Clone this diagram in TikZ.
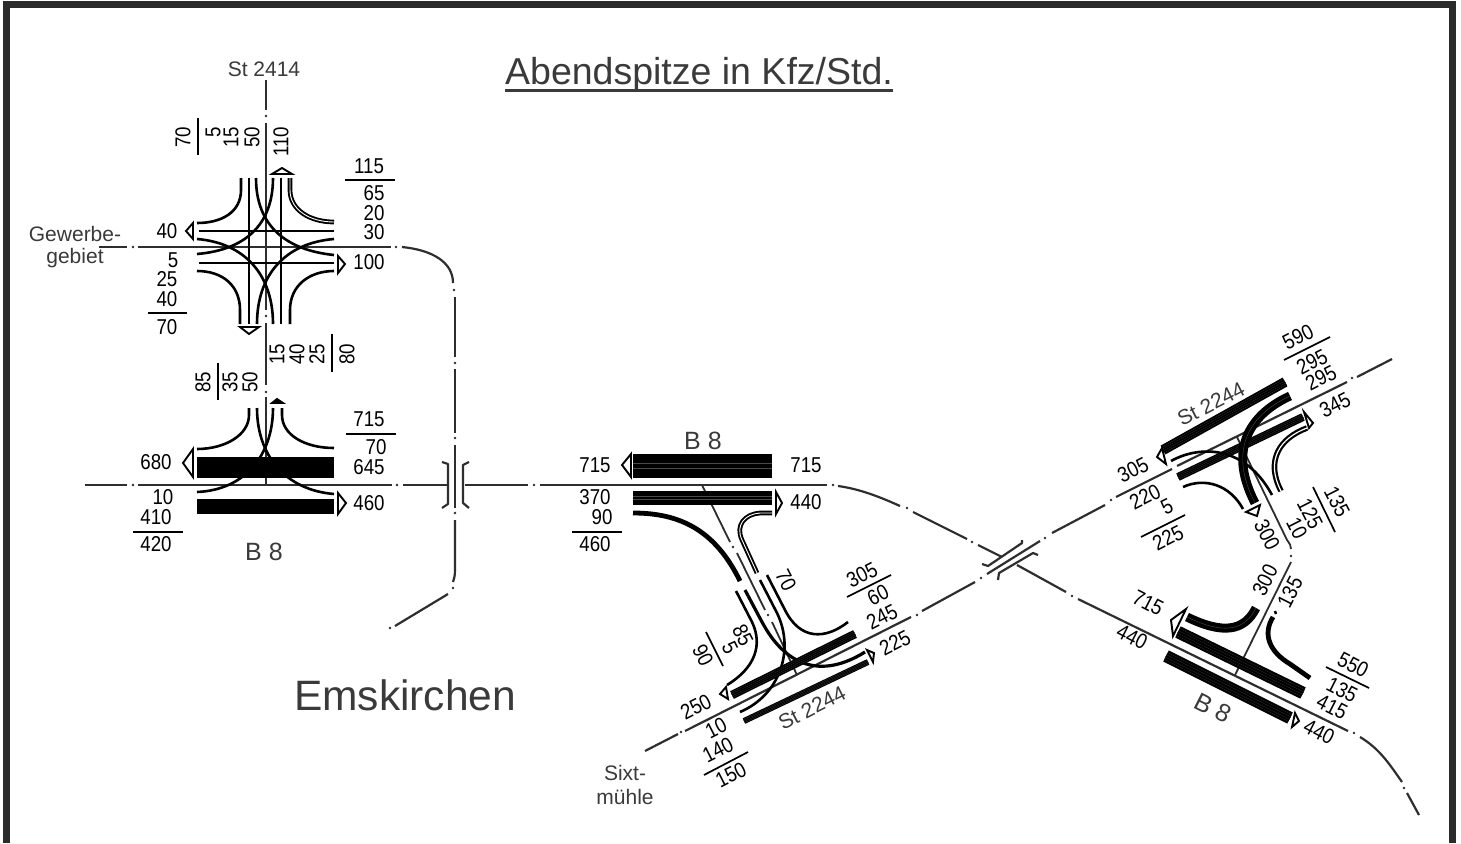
\documentclass[tikz,border=0pt]{standalone}
\usepackage{fontspec}
\setmainfont{Liberation Sans}
\newfontfamily\numfont[FakeStretch=0.87]{Liberation Sans}
\definecolor{frame}{HTML}{2B2B2B}
\definecolor{roadc}{HTML}{2E2E2E}
\definecolor{labc}{HTML}{3A3A3A}
\definecolor{stripe}{HTML}{4A4A4A}
\tikzset{
  road/.style={draw=roadc,line width=2.2pt},
  thinroad/.style={draw=roadc,line width=1.8pt},
  lane/.style={draw=black,line width=2.6pt},
  lanemid/.style={draw=black,line width=3.2pt},
  lanethick/.style={draw=black,line width=4.8pt},
  lanedouble/.style={draw=black,line width=1.9pt,double=white,double distance=0.9pt},
  fracbar/.style={draw=black,line width=1.7pt},
  arrowtri/.style={draw=black,line width=1.9pt,fill=white,line join=miter},
  numtext/.style={inner sep=0pt,text=black,font=\numfont\fontsize{21.5}{21.5}\selectfont},
  roadtext/.style={inner sep=0pt,text=labc,font=\fontsize{21}{21}\selectfont},
}
\newcommand\lab[5]{\node[numtext,rotate=#4] (#1) at (#2,#3) {#5};}
\newcommand\rlab[5]{\node[roadtext,rotate=#4] (#1) at (#2,#3) {#5};}
\newcommand\rdot[2]{\fill[roadc] (#1,#2) circle (1.4);}
% band: black strip with fine grey lane stripes
\newcommand\band[5]{%
  \draw[line width=#5pt,black] (#1,#2) -- (#3,#4);
  \draw[line width=#5pt*0.62,stripe] (#1,#2) -- (#3,#4);
  \draw[line width=#5pt*0.62-0.4pt,black] (#1,#2) -- (#3,#4);
  \draw[line width=#5pt*0.22,stripe] (#1,#2) -- (#3,#4);
  \draw[line width=#5pt*0.22-0.4pt,black] (#1,#2) -- (#3,#4);
}
\begin{document}
\begin{tikzpicture}[x=1pt,y=-1pt]
\useasboundingbox (0,0) rectangle (1461,843);
\fill[white] (0,0) rectangle (1461,843);
% frame
\fill[frame] (3,1) rectangle (1456,8);
\fill[frame] (3,1) rectangle (10,843);
\fill[frame] (1449,1) rectangle (1456,843);

% title
\node[inner sep=0pt,text=labc,font=\fontsize{37.5}{37.5}\selectfont] (title) at (699,74.5) {Abendspitze in Kfz/Std.};
\draw[draw=labc,line width=2.2pt] (505,90.5) -- (893,90.5);
\node[inner sep=0pt,text=labc,font=\fontsize{42.5}{42.5}\selectfont] (ems) at (405,695) {Emskirchen};

% ---- road axes ----
\draw[road] (266,80) -- (266,110); \rdot{266}{116}
\draw[road] (266,123) -- (266,310); \rdot{266}{316}
\draw[road] (266,323) -- (266,385); \rdot{266}{392}
\draw[road] (266,397) -- (266,485);
\draw[road] (99,247) -- (127,247); \rdot{133}{247}
\draw[road] (138,247) -- (391,247); \rdot{396}{247}
\draw[road] (402,247) .. controls (432,250) and (453,262) .. (453,283); \rdot{454}{290}
\draw[road] (455,297) -- (455,357); \rdot{455}{363}
\draw[road] (455,369) -- (455,433); \rdot{455}{438}
\draw[road] (455,445) -- (455,508); \rdot{455}{513}
\draw[road] (455,520) -- (455,570) .. controls (455,576) and (454,579) .. (453,582); \rdot{453}{588}
\draw[road] (448,594) -- (395,626); \rdot{390}{628}
\draw[road] (85,485) -- (127,485); \rdot{133}{485}
\draw[road] (138,485) -- (392,485); \rdot{397}{485}
\draw[road] (403,485) -- (448,485);
\draw[road] (465,485) -- (528,485); \rdot{534}{485}
\draw[road] (540,485) -- (827,485); \rdot{833}{485}
\draw[road] (838,486) .. controls (860,489) and (880,497) .. (900,506); \rdot{907}{508}
\draw[road] (913,512) -- (967,539); \rdot{972}{542}
\draw[road] (978,545) -- (1002,557);
\draw[road] (1017,565) -- (1066,592); \rdot{1072}{596}
\draw[road] (1078,599) -- (1348,731); \rdot{1354}{733}
\draw[road] (1360,737) .. controls (1380,749) and (1390,765) .. (1402,782); \rdot{1404}{788}
\draw[road] (1407,793) -- (1419,815);
% St 2244 axis
\draw[road] (645,751) -- (678,734); \rdot{681}{732}
\draw[road] (685,731) -- (911,617); \rdot{917}{615}
\draw[road] (922,611) -- (975,582); \rdot{981}{578}
\draw[road] (987,574) -- (1040,541); \rdot{1045}{538}
\draw[road] (1052,533) -- (1105,505); \rdot{1111}{500}
\draw[road] (1116,497) -- (1172,469);
\draw[road] (1177,466) -- (1347,382); \rdot{1352}{378}
\draw[road] (1357,377) -- (1392,359);
% side axes
\draw[thinroad] (702,485) -- (730,542); \rdot{733}{547}
\draw[thinroad] (737,553) -- (765,610); \rdot{768}{615}
\draw[thinroad] (772,622) -- (797,675);
\draw[thinroad] (1237,437) -- (1287,540) .. controls (1290,544) and (1291,546) .. (1291,549); \rdot{1291}{556}
\draw[thinroad] (1291,562) -- (1235,675);
% bridges
\draw[road,line join=round] (442,462) -- (448,464) -- (448,504) -- (442,508);
\draw[road,line join=round] (469,462) -- (463,465) -- (463,503) -- (469,508);
\draw[road,line join=round] (1022,540) -- (1022,543) -- (988,566) -- (982,564);
\draw[road,line join=round] (1038,555) -- (1033,553) -- (999,573) -- (998,580);

% ---- upper-left junction ----
\draw[lane] (241,178) -- (241,190) .. controls (241,212) and (222,223) .. (197,223);
\draw[lanedouble] (290,178) -- (290,190) .. controls (290,210) and (310,222) .. (334,222);
\draw[lane] (240,324) -- (240,310) .. controls (240,285) and (222,271) .. (197,271);
\draw[lane] (290,324) -- (290,310) .. controls (290,285) and (310,271) .. (334,271);
\draw[lane] (249,178) -- (249,324);
\draw[lane] (281,178) -- (281,324);
\draw[lane] (199,231) -- (334,231);
\draw[lane] (199,263) -- (334,263);
\draw[lane] (256,178) .. controls (256,225) and (285,250) .. (334,255);
\draw[lane] (273,178) .. controls (273,225) and (245,250) .. (197,254);
\draw[lane] (197,239) .. controls (245,243) and (273,275) .. (273,324);
\draw[lane] (257,324) .. controls (257,275) and (285,243) .. (334,239);
\draw[arrowtri] (272,174) -- (292,174) -- (282,168) -- cycle;
\draw[arrowtri] (193,223) -- (193,239) -- (186,231) -- cycle;
\draw[arrowtri] (338,256) -- (338,273) -- (345,264) -- cycle;
\draw[arrowtri] (240,327) -- (259,327) -- (249,334) -- cycle;

\node[roadtext] (st2414) at (264,69) {St 2414};
\rlab{gew}{75}{234}{0}{Gewerbe-}
\rlab{geb}{75}{258}{0}{gebiet}
\lab{a1}{183}{137}{90}{70}
\draw[fracbar] (198,118) -- (198,155);
\lab{a2}{213}{132}{90}{5}
\lab{a3}{231}{137}{90}{15}
\lab{a4}{252}{137}{90}{50}
\lab{a5}{281}{142}{90}{110}
\lab{a6}{369}{166}{0}{115}
\draw[fracbar] (345,180) -- (395,180);
\lab{a7}{374}{193}{0}{65}
\lab{a8}{374}{213}{0}{20}
\lab{a9}{374}{232}{0}{30}
\lab{a10}{167}{231}{0}{40}
\lab{a11}{369}{262}{0}{100}
\lab{a12}{173}{260}{0}{5}
\lab{a13}{167}{279}{0}{25}
\lab{a14}{167}{299}{0}{40}
\draw[fracbar] (148,313) -- (187,313);
\lab{a15}{167}{327}{0}{70}
\lab{a16}{277}{354}{90}{15}
\lab{a17}{297}{354}{90}{40}
\lab{a18}{317}{354}{90}{25}
\draw[fracbar] (332,334) -- (332,372);
\lab{a19}{347}{354}{90}{80}

% ---- lower-left junction ----
\band{197}{467.5}{334}{467.5}{21}
\band{197}{506.5}{334}{506.5}{15}
\draw[lane] (249,408) -- (249,415) .. controls (249,435) and (225,449) .. (197,449);
\draw[lane] (282,408) -- (282,415) .. controls (282,435) and (305,448) .. (334,448);
\draw[lane] (257,408) .. controls (257,455) and (285,490) .. (334,494);
\draw[lane] (273,408) .. controls (273,455) and (245,490) .. (197,492);
\draw[arrowtri,fill=black] (272,403) -- (283,403) -- (277,399) -- cycle;
\draw[arrowtri] (193,449) -- (193,477) -- (183,463) -- cycle;
\draw[arrowtri] (338,493) -- (338,514) -- (346,503) -- cycle;
\lab{b1}{203}{382}{90}{85}
\draw[fracbar] (218,363) -- (218,400);
\lab{b2}{230}{382}{90}{35}
\lab{b3}{250}{382}{90}{50}
\lab{b4}{369}{419}{0}{715}
\draw[fracbar] (346,434) -- (396,434);
\lab{b5}{376}{447}{0}{70}
\lab{b6}{369}{467}{0}{645}
\lab{b7}{156}{462}{0}{680}
\lab{b8}{163}{497}{0}{10}
\lab{b9}{156}{517}{0}{410}
\draw[fracbar] (133,532) -- (183,532);
\lab{b10}{156}{544}{0}{420}
\lab{b11}{369}{503}{0}{460}
\node[inner sep=0pt,text=labc,font=\fontsize{25}{25}\selectfont] (b8a) at (264,552) {B 8};

% ---- middle junction ----
\band{633}{466}{772}{466}{24}
\band{633}{498}{772}{498}{14}
\draw[arrowtri] (631,454) -- (631,477) -- (622,465) -- cycle;
\draw[arrowtri] (776,492) -- (776,514) -- (782,503) -- cycle;
\draw[lanethick] (633,513) .. controls (680,513) and (715,530) .. (740,581);
\draw[lanedouble] (772,513) -- (760,513) .. controls (745,514) and (735,525) .. (742,540) -- (757,573);
\draw[lane] (736,591) -- (752,622) .. controls (763,645) and (755,668) .. (727,685);
\draw[lanemid] (745,590) -- (762,622) .. controls (785,665) and (820,680) .. (865,652);
\draw[lane] (760,580) -- (777,613) .. controls (795,650) and (780,695) .. (740,712);
\draw[lane] (767,575) -- (785,610) .. controls (800,640) and (825,640) .. (848,622);
\band{732}{695}{855}{634}{8.5}
\band{744}{721}{868}{662}{6}
\draw[arrowtri] (726,687) -- (720,694) -- (728,699) -- cycle;
\draw[arrowtri] (867,650) -- (874,653) -- (873,662) -- cycle;
\node[inner sep=0pt,text=labc,font=\fontsize{25}{25}\selectfont] (b8b) at (703,441) {B 8};
\lab{c1}{595}{465}{0}{715}
\lab{c2}{806}{465}{0}{715}
\lab{c3}{806}{502}{0}{440}
\lab{c4}{595}{497}{0}{370}
\lab{c5}{602}{517}{0}{90}
\draw[fracbar] (572,532) -- (622,532);
\lab{c6}{595}{544}{0}{460}
\lab{c7}{862}{575}{27}{305}
\draw[fracbar] (847,597) -- (891,575);
\lab{c8}{878}{595}{27}{60}
\lab{c9}{882}{617}{27}{245}
\lab{c10}{895}{643}{27}{225}
\lab{c11}{696}{707}{27}{250}
\lab{c12}{716}{728}{27}{10}
\lab{c13}{718}{750}{27}{140}
\draw[fracbar] (704,775) -- (748,752);
\lab{c14}{731}{775}{27}{150}
\rlab{c15}{812}{708}{27}{St 2244}
\lab{c16}{786}{580}{-63}{70}
\lab{c17}{743}{635}{-63}{85}
\lab{c18}{730}{648}{-63}{5}
\draw[fracbar] (706,632) -- (723,666);
\lab{c19}{703}{655}{-63}{90}
\rlab{six}{625}{773}{0}{Sixt-}
\rlab{muh}{625}{797}{0}{mühle}

% ---- upper-right junction ----
\band{1163}{450}{1285}{382}{10}
\band{1178}{477}{1303}{417}{8}
\draw[black,line width=2.2pt,double=white,double distance=1.2pt] (1307,428) .. controls (1280,438) and (1265,460) .. (1281,491);
\draw[lane] (1183,487) .. controls (1205,477) and (1230,485) .. (1243,509);
\draw[lane] (1171,461) .. controls (1200,445) and (1245,445) .. (1272,495);
\draw[black,line width=9pt] (1290,396) .. controls (1255,412) and (1225,445) .. (1255,503);
\draw[stripe,line width=0.4pt] (1290,396) .. controls (1255,412) and (1225,445) .. (1255,503);
\draw[arrowtri] (1304,412) -- (1313,423) -- (1309,428) -- cycle;
\draw[arrowtri] (1162,448) -- (1157,457) -- (1166,464) -- cycle;
\draw[arrowtri] (1260,505) -- (1246,512) -- (1257,516) -- cycle;
\lab{d1}{1298}{337}{27}{590}
\draw[fracbar] (1284,360) -- (1330,337);
\lab{d2}{1312}{362}{27}{295}
\lab{d3}{1321}{378}{27}{295}
\lab{d4}{1335}{405}{27}{345}
\lab{d5}{1133}{470}{27}{305}
\lab{d6}{1145}{497}{27}{220}
\lab{d7}{1167}{507}{27}{5}
\draw[fracbar] (1141,537) -- (1185,515);
\lab{d8}{1168}{538}{27}{225}
\rlab{d9}{1211}{404}{27}{St 2244}
\lab{d10}{1267}{535}{-63}{300}
\lab{d11}{1297}{528}{-63}{10}
\lab{d12}{1310}{514}{-63}{125}
\lab{d13}{1337}{502}{-63}{135}
\draw[fracbar] (1313,487) -- (1335,532);

% ---- lower-right junction ----
\band{1178}{632}{1303}{693}{12.5}
\band{1166}{656}{1290}{718}{12.5}
\draw[black,line width=9pt] (1256,608) .. controls (1244,632) and (1222,634) .. (1187,617);
\draw[stripe,line width=0.4pt] (1256,608) .. controls (1244,632) and (1222,634) .. (1187,617);
\draw[black,line width=1.9pt,double=black,double distance=1pt] (1273,617) .. controls (1262,635) and (1270,652) .. (1290,664) -- (1310,678);
\draw[black,line width=2.5pt] (1275,611) -- (1276,614);
\draw[arrowtri] (1186,609) -- (1171,620) -- (1173,636) -- cycle;
\draw[arrowtri] (1295,713) -- (1299,721) -- (1292,727) -- cycle;
\lab{e1}{1265}{580}{63}{300}
\lab{e2}{1290}{592}{63}{135}
\lab{e3}{1148}{603}{-27}{715}
\lab{e4}{1132}{637}{-27}{440}
\lab{e5}{1353}{665}{-27}{550}
\draw[fracbar] (1326,667) -- (1369,688);
\lab{e6}{1342}{690}{-27}{135}
\lab{e7}{1332}{707}{-27}{415}
\lab{e8}{1319}{732}{-27}{440}
\node[inner sep=0pt,text=labc,rotate=-27,font=\fontsize{25}{25}\selectfont] (b8c) at (1213,708) {B 8};
\end{tikzpicture}
\end{document}
